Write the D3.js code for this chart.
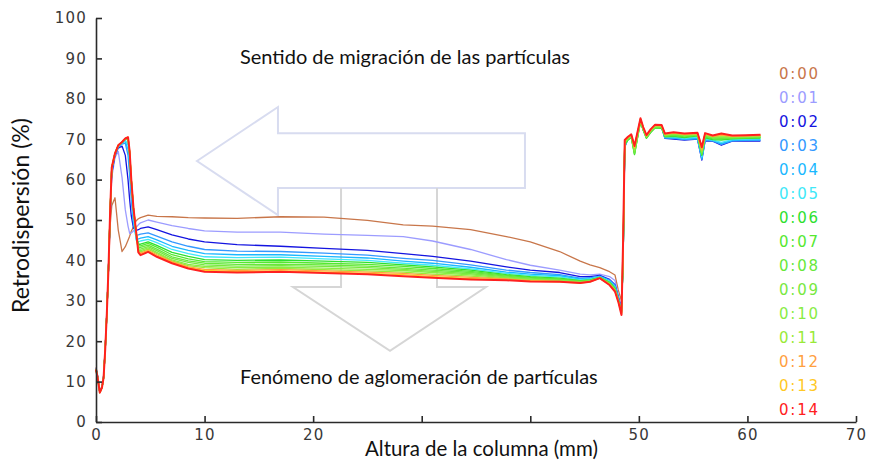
<!DOCTYPE html>
<html lang="es">
<head>
<meta charset="UTF-8">
<title>Retrodispersión</title>
<script src="https://d3js.org/d3.v7.min.js"></script>
<style>
  body { margin: 0; background: #fff; }
  svg { display: block; }
  .axis path, .axis line { stroke: #2a2a2a; stroke-width: 1.6; }
  .axis text { font-family: "DejaVu Sans", sans-serif; font-size: 15px; fill: #383838; letter-spacing: 1.2px; }
  .note { font-family: Lato, "Open Sans", sans-serif; fill: #111; }
  .legend text { font-family: "DejaVu Sans", sans-serif; font-size: 15px; letter-spacing: 1.8px; }
  .arrow { fill: none; stroke-width: 2; }
</style>
</head>
<body>
<svg width="869" height="463"></svg>
<script>
// === Data ===
const timeLabels = ["0:00","0:01","0:02","0:03","0:04","0:05","0:06","0:07","0:08","0:09","0:10","0:11","0:12","0:13","0:14"];
const seriesColors = ["#c8764a","#9c9cff","#1414e0","#3399ff","#1ab8ff","#40e8f8","#2ee02e","#55e830","#66e83a","#77e840","#88ec44","#99ea38","#ffa040","#ffc825","#ff2020"];

// column height (mm)
const heightMm = [
  0, 0.15, 0.35, 0.55, 0.7, 0.85, 1.0, 1.15, 1.3, 1.45, 1.75, 2.05, 2.4, 2.7, 2.95, 3.1, 3.25, 3.45, 3.7, 3.9, 4.1, 4.8, 5.6,
  7, 8.5, 10, 13, 17, 21, 25, 28.3, 31, 34.5, 37.8, 40, 42.7, 44.6, 45.5, 46.4, 47.3, 47.8, 48.1, 48.4,
  48.55, 48.7, 49.0, 49.3, 49.6, 50.15, 50.4, 50.7, 51.1, 51.5, 52.1, 52.4, 53.2, 54.2, 55.4, 55.8, 56.1, 56.8, 57.6, 58.6, 59.8, 61.2
];

// backscattering (%) per scan time
const t00 = [13.5, 11.5, 7.8, 8.8, 11.5, 18.5, 27.5, 38, 48.5, 53.5, 55.5, 47.5, 42.2, 43.4, 45.0, 46.0, 47.2, 48.3, 49.8, 50.3, 50.6, 51.2, 50.9,
  50.8, 50.6, 50.5, 50.4, 50.8, 50.7, 49.9, 48.8, 48.5, 47.6, 45.9, 44.6, 42.2, 39.8, 38.9, 38.2, 37.2, 36.4, 32.7, 30.0,
  44, 69.5, 70.5, 71.1, 68.3, 75.0, 72.9, 70.9, 72.4, 73.5, 73.4, 71.3, 71.6, 71.3, 71.5, 68.2, 71.4, 70.8, 71.3, 70.8, 70.9, 71.0];
const t01 = [13.3, 11.3, 7.6, 8.7, 11.3, 18.2, 27.2, 38, 50.5, 60.5, 65.5, 67.0, 60.5, 52.5, 48.5, 46.7, 46.8, 47.3, 48.2, 48.8, 49.3, 50.0, 49.5,
  48.6, 47.9, 47.3, 47.0, 47.0, 46.5, 46.2, 45.9, 44.8, 42.7, 40.2, 38.8, 37.6, 36.6, 36.4, 36.6, 36.0, 35.0, 31.5, 28.5,
  40, 68.5, 70.3, 70.9, 68.2, 74.7, 72.6, 70.8, 72.1, 73.1, 73.1, 70.4, 70.2, 70.0, 70.2, 65.5, 69.8, 69.7, 68.9, 69.7, 69.8, 69.7];
const t02 = [13.2, 11.2, 7.5, 8.6, 11.2, 18.1, 27.1, 38, 51, 61.5, 66.0, 67.8, 68.3, 66.0, 60.0, 55.0, 51.0, 48.0, 47.4, 47.6, 47.9, 48.3, 47.6,
  46.3, 45.3, 44.6, 43.9, 43.5, 43.0, 42.5, 41.7, 41.0, 39.8, 38.4, 37.6, 37.0, 36.0, 36.0, 36.3, 35.3, 34.0, 31.0, 28.0,
  40, 68.0, 70.2, 70.8, 68.0, 74.5, 72.5, 70.7, 72.0, 73.0, 73.0, 70.2, 70.0, 69.8, 70.0, 64.8, 69.6, 69.5, 68.5, 69.5, 69.6, 69.5];
const t03 = [13.1, 11.1, 7.4, 8.6, 11.1, 18, 27, 38, 51.2, 62.3, 66.2, 68.0, 68.8, 69.0, 66.0, 61.0, 55.0, 49.0, 46.2, 46.3, 46.5, 46.8, 46.0,
  44.6, 43.5, 42.7, 42.3, 42.2, 41.8, 41.3, 40.5, 40.0, 38.9, 37.6, 37.0, 36.5, 35.6, 35.7, 36.1, 35.1, 33.8, 30.8, 28.0,
  40, 68.2, 70.1, 70.7, 67.8, 74.5, 72.4, 70.6, 71.9, 73.0, 73.0, 70.3, 70.2, 69.9, 70.1, 65.0, 69.7, 69.6, 68.7, 69.6, 69.7, 69.7];
const t04 = [13.1, 11.1, 7.4, 8.5, 11.1, 18, 27, 38, 51.4, 62.5, 66.3, 68.1, 69.0, 69.5, 67.5, 63.0, 57.0, 50.0, 45.3, 45.3, 45.5, 45.9, 45.1,
  43.5, 42.5, 41.7, 41.4, 41.4, 41.0, 40.6, 39.8, 39.3, 38.3, 37.1, 36.6, 36.2, 35.4, 35.5, 36.0, 35.0, 33.6, 30.6, 27.8,
  40, 68.3, 70.0, 70.6, 67.5, 74.5, 72.4, 70.5, 71.9, 73.0, 72.9, 70.4, 70.3, 70.0, 70.3, 65.3, 69.9, 69.7, 68.9, 69.7, 69.8, 69.9];
const t05 = [13.0, 11.0, 7.4, 8.5, 11.0, 18, 27, 38, 51.5, 62.7, 66.4, 68.2, 69.1, 69.8, 68.5, 64.5, 58.0, 51.0, 45.0, 44.6, 44.8, 45.2, 44.4,
  42.7, 41.7, 40.9, 40.7, 40.8, 40.4, 40.0, 39.3, 38.8, 37.9, 36.8, 36.3, 35.9, 35.2, 35.4, 35.9, 34.8, 33.4, 30.5, 27.6,
  40, 68.4, 69.9, 70.5, 67.0, 74.4, 72.3, 70.4, 71.8, 72.9, 72.8, 70.5, 70.5, 70.2, 70.5, 65.6, 70.1, 69.8, 69.2, 69.9, 70.0, 70.1];
const t06 = [13.0, 11.0, 7.3, 8.5, 11.0, 18, 27, 38, 51.6, 62.8, 66.4, 68.3, 69.2, 70.0, 70.0, 66.0, 59.5, 52.5, 46.5, 44.0, 44.0, 44.6, 43.7,
  42.0, 41.0, 40.2, 40.0, 40.1, 39.8, 39.5, 38.9, 38.4, 37.6, 36.5, 36.0, 35.6, 35.0, 35.2, 35.8, 34.6, 33.2, 30.4, 27.4,
  40, 68.6, 69.8, 70.4, 66.2, 74.3, 72.2, 70.2, 71.7, 72.8, 72.7, 70.6, 70.7, 70.4, 70.8, 66.0, 70.3, 69.9, 69.8, 70.1, 70.2, 70.3];
const t07 = [13.0, 11.0, 7.3, 8.5, 11.0, 18, 27, 38, 51.7, 62.8, 66.4, 68.3, 69.2, 70.0, 70.2, 66.3, 59.7, 52.7, 46.6, 43.6, 43.6, 44.2, 43.3,
  41.4, 40.4, 39.7, 39.5, 39.6, 39.3, 39.0, 38.5, 38.0, 37.3, 36.3, 35.8, 35.4, 34.9, 35.1, 35.8, 34.5, 33.0, 30.3, 27.3,
  40, 68.8, 69.9, 70.5, 66.3, 74.4, 72.3, 70.3, 71.8, 72.9, 72.8, 70.7, 70.9, 70.6, 70.9, 66.2, 70.5, 70.1, 70.0, 70.2, 70.3, 70.4];
const t08 = [13.0, 11.0, 7.3, 8.5, 11.0, 18, 27, 38, 51.8, 62.9, 66.4, 68.4, 69.2, 70.1, 70.3, 66.5, 59.8, 52.8, 46.7, 43.2, 43.2, 43.8, 42.8,
  40.9, 39.9, 39.3, 39.0, 39.1, 38.9, 38.6, 38.1, 37.6, 37.0, 36.1, 35.6, 35.3, 34.8, 35.0, 35.7, 34.4, 32.9, 30.2, 27.2,
  40, 69.0, 70.0, 70.6, 66.5, 74.5, 72.4, 70.4, 71.9, 73.0, 72.9, 70.8, 71.0, 70.8, 71.0, 66.4, 70.7, 70.3, 70.2, 70.3, 70.4, 70.5];
const t09 = [13.0, 11.0, 7.3, 8.5, 11.0, 18, 27, 38, 51.8, 62.9, 66.5, 68.4, 69.3, 70.1, 70.4, 66.6, 59.9, 52.9, 46.8, 42.9, 42.8, 43.4, 42.4,
  40.5, 39.5, 38.9, 38.6, 38.7, 38.5, 38.2, 37.8, 37.3, 36.7, 35.9, 35.4, 35.1, 34.7, 34.9, 35.7, 34.3, 32.8, 30.1, 27.1,
  40, 69.2, 70.1, 70.7, 66.8, 74.6, 72.5, 70.5, 72.0, 73.1, 73.0, 70.9, 71.2, 70.9, 71.1, 66.6, 70.9, 70.4, 70.4, 70.4, 70.5, 70.6];
const t10 = [13.0, 11.0, 7.3, 8.5, 11.0, 18, 27, 38, 51.9, 62.9, 66.5, 68.4, 69.3, 70.1, 70.4, 66.7, 60.0, 53.0, 46.9, 42.6, 42.4, 43.1, 42.0,
  40.1, 39.0, 38.5, 38.2, 38.3, 38.1, 37.8, 37.5, 37.0, 36.4, 35.7, 35.3, 35.0, 34.6, 34.9, 35.7, 34.2, 32.7, 30.0, 27.0,
  41, 69.4, 70.2, 70.8, 67.2, 74.7, 72.6, 70.6, 72.1, 73.2, 73.1, 71.0, 71.3, 71.0, 71.2, 66.8, 71.0, 70.5, 70.6, 70.5, 70.6, 70.7];
const t11 = [13.0, 11.0, 7.3, 8.5, 11.0, 18, 27, 38, 51.9, 63.0, 66.5, 68.5, 69.3, 70.2, 70.4, 66.8, 60.0, 53.0, 46.9, 42.4, 42.1, 42.8, 41.7,
  39.9, 38.7, 38.2, 37.8, 38.0, 37.7, 37.4, 37.1, 36.6, 36.1, 35.5, 35.1, 34.9, 34.5, 34.8, 35.6, 34.1, 32.6, 30.0, 26.9,
  42, 69.5, 70.3, 70.9, 67.5, 74.8, 72.7, 70.7, 72.2, 73.3, 73.2, 71.1, 71.4, 71.1, 71.3, 67.0, 71.2, 70.6, 70.8, 70.6, 70.7, 70.8];
const t12 = [13.0, 11.0, 7.3, 8.5, 11.0, 18, 27, 38, 52.0, 63.0, 66.5, 68.5, 69.3, 70.2, 70.5, 66.9, 60.0, 53.0, 47.0, 42.2, 41.8, 42.5, 41.4,
  39.7, 38.4, 37.8, 37.5, 37.7, 37.4, 37.1, 36.8, 36.3, 35.8, 35.4, 35.0, 34.8, 34.5, 34.8, 35.6, 34.0, 32.5, 29.9, 26.8,
  43, 69.6, 70.4, 71.0, 67.8, 74.9, 72.8, 70.8, 72.3, 73.4, 73.3, 71.2, 71.5, 71.2, 71.4, 67.3, 71.3, 70.7, 71.0, 70.7, 70.8, 70.9];
const t13 = [13.0, 11.0, 7.3, 8.5, 11.0, 18, 27, 38, 52.0, 63.0, 66.5, 68.5, 69.3, 70.2, 70.5, 67.0, 60.0, 53.0, 47.0, 42.1, 41.5, 42.3, 41.1,
  39.5, 38.2, 37.5, 37.2, 37.4, 37.1, 36.8, 36.5, 36.0, 35.5, 35.2, 34.9, 34.7, 34.4, 34.7, 35.6, 34.0, 32.4, 29.9, 26.7,
  44, 69.7, 70.5, 71.1, 68.0, 75.0, 72.9, 70.9, 72.4, 73.5, 73.4, 71.3, 71.6, 71.3, 71.5, 67.6, 71.4, 70.8, 71.2, 70.8, 70.9, 71.0];
const t14 = [13.0, 11.0, 7.3, 8.5, 11.0, 18, 27, 38, 52, 63, 66.5, 68.5, 69.3, 70.2, 70.5, 67.0, 60.0, 53.0, 47.0, 42.0, 41.3, 42.1, 40.9,
  39.3, 38.0, 37.2, 37.0, 37.2, 36.9, 36.6, 36.1, 35.7, 35.3, 35.1, 34.8, 34.7, 34.4, 34.7, 35.6, 33.9, 32.3, 29.8, 26.5,
  45, 69.8, 70.6, 71.2, 68.3, 75.2, 73.0, 71.0, 72.5, 73.6, 73.5, 71.4, 71.7, 71.4, 71.6, 68.0, 71.5, 70.9, 71.4, 70.9, 71.0, 71.1];
const seriesValues = [t00, t01, t02, t03, t04, t05, t06, t07, t08, t09, t10, t11, t12, t13, t14];

const xTicks = [0, 10, 20, 30, 40, 50, 60, 70];
const xTickLabels = ["0", "10", "20", "", "", "50", "60", "70"]; // 30 and 40 are hidden under the axis title
const yTicks = [0, 10, 20, 30, 40, 50, 60, 70, 80, 90, 100];

// annotation arrows, in data units (mm, %)
const arrowMigration = [[9.3, 64.6], [16.76, 77.97], [16.76, 71.5], [39.51, 71.5], [39.51, 57.9], [16.76, 57.9], [16.76, 51.2]];
const arrowCluster = [[22.57, 57.9], [22.57, 33.4], [18.14, 33.4], [27.08, 17.6], [35.92, 33.4], [31.41, 33.4], [31.41, 57.9]];

// === Layout ===
const svg = d3.select("svg");
const width = 869, height = 463;
const margin = { top: 18, right: 13, bottom: 41, left: 96 };

const x = d3.scaleLinear().domain([0, 70]).range([margin.left, width - margin.right]);
const y = d3.scaleLinear().domain([0, 100]).range([height - margin.bottom, margin.top]);

// === Arrows (behind the data) ===
const arrowLine = d3.line().x(d => x(d[0])).y(d => y(d[1]));
svg.append("path")
  .attr("class", "arrow")
  .attr("d", arrowLine(arrowMigration) + "Z")
  .attr("stroke", "#d8dcf0");
svg.append("path")
  .attr("class", "arrow")
  .attr("d", arrowLine(arrowCluster))
  .attr("stroke", "#d6d6d6");

// === Notes ===
function fitText(sel, w) {
  const len = sel.node().getComputedTextLength();
  const fs = parseFloat(sel.style("font-size"));
  sel.style("font-size", (fs * w / len) + "px");
  return sel;
}

fitText(svg.append("text").attr("class", "note")
  .attr("x", 240).attr("y", 64).style("font-size", "17px")
  .text("Sentido de migración de las partículas"), 330);

fitText(svg.append("text").attr("class", "note")
  .attr("x", 240).attr("y", 384).style("font-size", "17px")
  .text("Fenómeno de aglomeración de partículas"), 358);

// === Series ===
const line = d3.line()
  .x((d, i) => x(heightMm[i]))
  .y(d => y(d));

svg.append("g")
  .selectAll("path")
  .data(seriesValues)
  .join("path")
  .attr("d", d => line(d))
  .attr("fill", "none")
  .attr("stroke", (d, i) => seriesColors[i])
  .attr("stroke-width", (d, i) => i === 14 ? 2 : 1.3)
  .attr("stroke-linejoin", "round");

// === Axes ===
svg.append("g")
  .attr("class", "axis")
  .attr("transform", `translate(0,${height - margin.bottom})`)
  .call(d3.axisBottom(x).tickValues(xTicks).tickFormat((d, i) => xTickLabels[i])
    .tickSizeInner(-6).tickSizeOuter(0).tickPadding(7));

svg.append("g")
  .attr("class", "axis")
  .attr("transform", `translate(${margin.left},0)`)
  .call(d3.axisLeft(y).tickValues(yTicks).tickFormat(d3.format("d"))
    .tickSizeInner(-6).tickSizeOuter(0).tickPadding(9));

fitText(svg.append("text").attr("class", "note")
  .attr("x", 365).attr("y", 456).style("font-size", "17px")
  .text("Altura de la columna (mm)"), 233);

fitText(svg.append("text").attr("class", "note")
  .attr("text-anchor", "middle")
  .attr("transform", "translate(29,215.5) rotate(-90)")
  .style("font-size", "17px")
  .text("Retrodispersión (%)"), 195);

// === Legend ===
const legendY = d3.scaleLinear().domain([0, timeLabels.length - 1]).range([74, 410]);
svg.append("g")
  .attr("class", "legend")
  .selectAll("text")
  .data(timeLabels)
  .join("text")
  .attr("x", 779)
  .attr("y", (d, i) => legendY(i))
  .attr("dy", "0.36em")
  .attr("fill", (d, i) => seriesColors[i])
  .text(d => d);
</script>
</body>
</html>
